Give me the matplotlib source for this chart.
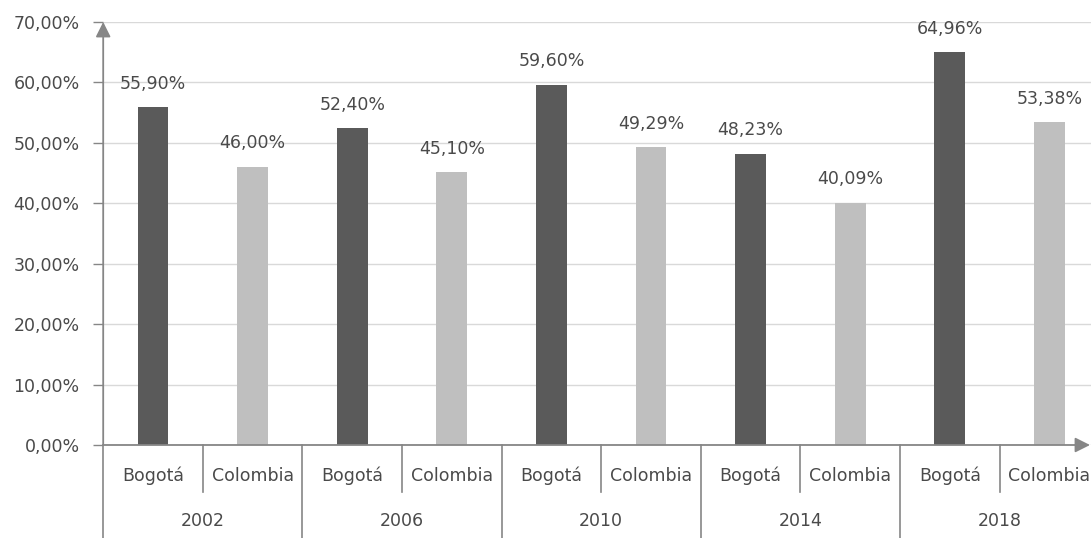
import matplotlib
matplotlib.use("Agg")
import matplotlib.pyplot as plt
from matplotlib.ticker import FuncFormatter

years = ["2002", "2006", "2010", "2014", "2018"]
regions = ["Bogotá", "Colombia"]
bogota = [55.90, 52.40, 59.60, 48.23, 64.96]
colombia = [46.00, 45.10, 49.29, 40.09, 53.38]
y_ticks = [0, 10, 20, 30, 40, 50, 60, 70]

dark = "#5a5a5a"
light = "#bfbfbf"
axis_col = "#868686"
text_col = "#4a4a4a"
fs = 12.5
plt.rcParams["font.family"] = ["DejaVu Sans"]

W, H = 1091, 538
fig = plt.figure(figsize=(W / 100, H / 100), dpi=100)
left_px, bottom_px, top_px = 103.2, 445, 22
slot = 99.6
n_slots = 2 * len(years)
x_right = (W - left_px) / slot - 0.5
ax = fig.add_axes([left_px / W, (H - bottom_px) / H, 1 - left_px / W, (bottom_px - top_px) / H])
ax.set_xlim(-0.5, x_right)
ax.set_ylim(0, 70)

def pct(v):
    return f"{v:.2f}".replace(".", ",") + "%"

bw = 0.31
for i, (b, c) in enumerate(zip(bogota, colombia)):
    xb, xc = 2 * i, 2 * i + 1
    ax.bar(xb, b, width=bw, color=dark, zorder=3)
    ax.bar(xc, c, width=bw, color=light, zorder=3)
    for x, v in ((xb, b), (xc, c)):
        ax.annotate(pct(v), (x, v), xytext=(0, 17), textcoords="offset points",
                    ha="center", va="center", fontsize=fs, color=text_col)

# gridlines
ax.set_yticks(y_ticks)
ax.yaxis.set_major_formatter(FuncFormatter(lambda v, _: pct(v)))
ax.grid(axis="y", color="#d9d9d9", linewidth=1, zorder=0)
ax.tick_params(axis="y", length=7, width=1, color=axis_col, pad=10,
               labelsize=fs, labelcolor=text_col)
ax.set_xticks([])
for s in ax.spines.values():
    s.set_visible(False)

# axis lines with arrowheads
arrow = dict(arrowstyle="-|>,head_length=0.6,head_width=0.3", color=axis_col, lw=1.3,
             mutation_scale=15, shrinkA=0, shrinkB=0)
ax.annotate("", xy=(-0.5, 70), xytext=(-0.5, 0), xycoords="data",
            arrowprops=arrow, zorder=5)
ax.annotate("", xy=(0.999, 0), xytext=(0, 0), xycoords=("axes fraction", "data"),
            arrowprops=arrow, zorder=5)

# two-level category axis
tr = ax.get_xaxis_transform()
ax_h = bottom_px - top_px
def fy(px):
    return -(px - bottom_px) / ax_h

for k in range(n_slots):
    ax.text(k, fy(476), regions[k % 2], transform=tr, ha="center", va="center",
            fontsize=fs, color=text_col, clip_on=False)
for i, yr in enumerate(years):
    ax.text(2 * i + 0.5, fy(521), yr, transform=tr, ha="center", va="center",
            fontsize=fs, color=text_col, clip_on=False)
    gx = 2 * i - 0.5
    ax.plot([gx, gx], [0, fy(540)], transform=tr, color=axis_col, lw=1.2, clip_on=False)
    sx = 2 * i + 0.5
    ax.plot([sx, sx], [0, fy(492)], transform=tr, color=axis_col, lw=1.2, clip_on=False)

fig.savefig("out.png", dpi=100, facecolor="white")
